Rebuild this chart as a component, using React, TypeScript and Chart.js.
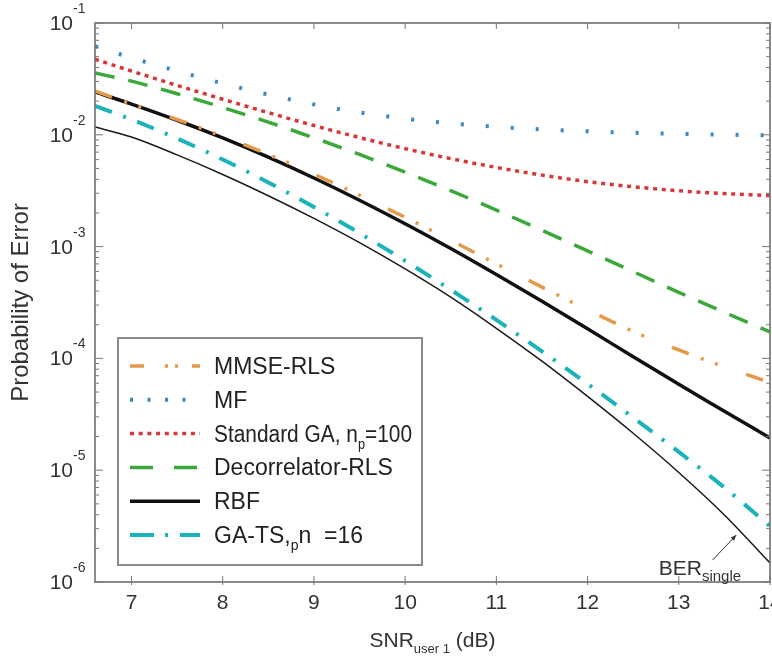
import React, { useEffect, useRef } from "react";
import { Chart, registerables } from "chart.js";

Chart.register(...registerables);

const FONT = "'Liberation Sans', Arial, Helvetica, sans-serif";

// SNR of user 1 (dB)
const snrDb = [6.6, 7, 7.5, 8, 8.5, 9, 9.5, 10, 10.5, 11, 11.5, 12, 12.5, 13, 13.5, 14];

// Probability of error per receiver
const mmseRls = [0.02466, 0.01884, 0.01371, 0.0097, 0.00667, 0.00445, 0.00288, 0.00183, 0.001138, 0.000702, 0.000434, 0.000272, 0.0001746, 0.000119, 8.41e-5, 6.1e-5];
const mf = [0.0621, 0.0488, 0.0372, 0.0288, 0.0229, 0.0187, 0.01585, 0.01393, 0.01265, 0.01178, 0.01117, 0.01074, 0.01042, 0.01019, 0.01002, 0.00991];
const standardGa = [0.0474, 0.0372, 0.02767, 0.0208, 0.01578, 0.0121, 0.00944, 0.00752, 0.00612, 0.00511, 0.00436, 0.00381, 0.00343, 0.00316, 0.00298, 0.00286];
const decorrelatorRls = [0.0357, 0.0302, 0.0233, 0.01754, 0.01297, 0.0094, 0.00667, 0.00463, 0.00316, 0.00212, 0.0014, 0.000916, 0.000597, 0.00039, 0.000258, 0.000173];
const rbf = [0.02415, 0.01884, 0.01349, 0.00938, 0.00631, 0.00411, 0.0026, 0.0016, 0.00096, 0.000562, 0.000324, 0.000184, 0.0001035, 5.86e-5, 3.37e-5, 1.94e-5];
const gaTs = [0.01811, 0.01371, 0.00927, 0.00601, 0.00375, 0.00226, 0.00132, 0.000746, 0.000411, 0.000221, 0.0001156, 5.92e-5, 2.96e-5, 1.456e-5, 7.0e-6, 3.16e-6];
const berSingle = [0.01175, 0.00955, 0.00661, 0.00442, 0.00285, 0.001786, 0.001084, 0.000631, 0.000353, 0.000186, 9.44e-5, 4.57e-5, 2.14e-5, 9.55e-6, 3.98e-6, 1.48e-6];

// Series names (_{...} marks a subscript)
const seriesNames = ["MMSE-RLS", "MF", "Standard GA, n_{p}=100", "Decorrelator-RLS", "RBF", "GA-TS,_{p}n  =16"];
const berLabel = "BER_{single}";

// Axes
const xTickValues = [7, 8, 9, 10, 11, 12, 13, 14];
const yExponents = [-6, -5, -4, -3, -2, -1];
const xTitle = "SNR_{user 1} (dB)";
const yTitle = "Probability of Error";

// Annotation anchor (data coords)
const berTextAt = { x: 12.78, y: 1.16e-6 };
const berArrowFrom = { x: 13.37, y: 1.57e-6 };
const berArrowTo = { x: 13.63, y: 2.63e-6 };

type Part = { t: string; sub: boolean };
function parseRich(s: string): Part[] {
  const parts: Part[] = [];
  const re = /_\{([^}]*)\}/g;
  let last = 0;
  let m: RegExpExecArray | null;
  while ((m = re.exec(s))) {
    if (m.index > last) parts.push({ t: s.slice(last, m.index), sub: false });
    parts.push({ t: m[1], sub: true });
    last = re.lastIndex;
  }
  if (last < s.length) parts.push({ t: s.slice(last), sub: false });
  return parts;
}

function drawRich(
  ctx: CanvasRenderingContext2D,
  s: string,
  x: number,
  y: number,
  size: number,
  subSize: number,
  align: "left" | "center",
  color: string,
  maxWidth?: number
) {
  const parts = parseRich(s);
  const widths: number[] = [];
  let total = 0;
  for (const p of parts) {
    ctx.font = `${p.sub ? subSize : size}px ${FONT}`;
    const w = ctx.measureText(p.t).width;
    widths.push(w);
    total += w;
  }
  const sx = maxWidth && total > maxWidth ? maxWidth / total : 1;
  const drawnTotal = total * sx;
  const startX = align === "center" ? x - drawnTotal / 2 : x;
  ctx.save();
  ctx.translate(startX, y);
  ctx.scale(sx, 1);
  ctx.textAlign = "left";
  ctx.textBaseline = "alphabetic";
  ctx.fillStyle = color;
  let cx = 0;
  parts.forEach((p, i) => {
    ctx.font = `${p.sub ? subSize : size}px ${FONT}`;
    ctx.fillText(p.t, cx, p.sub ? size * 0.3 : 0);
    cx += widths[i];
  });
  ctx.restore();
}

const seriesStyles = [
  { color: "#e39a4a", width: 3.5, dash: [18, 13, 3, 12, 3, 30], legendDash: [14, 21, 3, 7, 3, 14] },
  { color: "#3b88c4", width: 4, dash: [3, 22], legendDash: [3, 14.5] },
  { color: "#d6383a", width: 3.5, dash: [4, 4.7], legendDash: [4, 4.7] },
  { color: "#3aa83a", width: 3.5, dash: [20, 14], legendDash: [23, 21] },
  { color: "#111111", width: 3.5, dash: [] as number[], legendDash: [] as number[] },
  { color: "#1bb3b8", width: 4, dash: [18, 12, 3, 12], legendDash: [24, 11, 3, 12] },
];

const decorPlugin = {
  id: "decor",
  beforeDraw(chart: any) {
    const { ctx, width, height } = chart;
    ctx.save();
    ctx.fillStyle = "#ffffff";
    ctx.fillRect(0, 0, width, height);
    ctx.restore();
  },
  afterDatasetsDraw(chart: any) {
    const { ctx, chartArea: ca } = chart;
    const xs = chart.scales.x;
    const ys = chart.scales.y;
    ctx.save();

    // frame
    ctx.strokeStyle = "#6f6f6f";
    ctx.lineWidth = 1.6;
    ctx.setLineDash([]);
    ctx.strokeRect(ca.left, ca.top, ca.right - ca.left, ca.bottom - ca.top);

    // tick marks
    ctx.lineWidth = 1;
    ctx.strokeStyle = "#777";
    for (const e of yExponents) {
      const yMaj = ys.getPixelForValue(Math.pow(10, e));
      ctx.beginPath();
      ctx.moveTo(ca.left, yMaj); ctx.lineTo(ca.left + 8, yMaj);
      ctx.moveTo(ca.right, yMaj); ctx.lineTo(ca.right - 8, yMaj);
      ctx.stroke();
      if (e < -1) {
        for (let m = 2; m <= 9; m++) {
          const y = ys.getPixelForValue(m * Math.pow(10, e));
          ctx.beginPath();
          ctx.moveTo(ca.left, y); ctx.lineTo(ca.left + 4, y);
          ctx.moveTo(ca.right, y); ctx.lineTo(ca.right - 4, y);
          ctx.stroke();
        }
      }
    }
    for (const v of xTickValues) {
      const x = xs.getPixelForValue(v);
      ctx.beginPath();
      ctx.moveTo(x, ca.bottom + 3); ctx.lineTo(x, ca.bottom - 6);
      ctx.moveTo(x, ca.top); ctx.lineTo(x, ca.top + 6);
      ctx.stroke();
    }

    // y tick labels 10^e
    ctx.fillStyle = "#333";
    for (const e of yExponents) {
      const y = ys.getPixelForValue(Math.pow(10, e));
      ctx.font = `21px ${FONT}`;
      ctx.textAlign = "right";
      ctx.textBaseline = "alphabetic";
      ctx.fillText("10", ca.left - 22, y + 7);
      ctx.font = `14px ${FONT}`;
      ctx.textAlign = "left";
      ctx.fillText(String(e), ca.left - 22, y - 10);
    }

    // x title
    drawRich(ctx, xTitle, (ca.left + ca.right) / 2, ca.bottom + 65, 21, 13, "center", "#333");

    // legend
    const bx = ca.left + 23;
    const by = ca.bottom - 244;
    const bw = 304;
    const bh = 227;
    ctx.fillStyle = "#ffffff";
    ctx.fillRect(bx, by, bw, bh);
    ctx.strokeStyle = "#8a8a8a";
    ctx.lineWidth = 2;
    ctx.setLineDash([]);
    ctx.strokeRect(bx, by, bw, bh);
    chart.data.datasets.forEach((ds: any, i: number) => {
      if (i >= seriesNames.length) return;
      const ry = by + 28 + i * 33.8;
      ctx.save();
      ctx.strokeStyle = ds.borderColor;
      ctx.lineWidth = ds.borderWidth;
      ctx.setLineDash(seriesStyles[i].legendDash);
      ctx.beginPath();
      ctx.moveTo(bx + 12, ry);
      ctx.lineTo(bx + 82, ry);
      ctx.stroke();
      ctx.restore();
      drawRich(ctx, seriesNames[i], bx + 96, ry + 8, 23, 14, "left", "#222", bw - 96 - 10);
    });

    // BER_single annotation
    const tx = xs.getPixelForValue(berTextAt.x);
    const ty = ys.getPixelForValue(berTextAt.y);
    drawRich(ctx, berLabel, tx, ty, 21, 15, "left", "#333");
    const ax0 = xs.getPixelForValue(berArrowFrom.x);
    const ay0 = ys.getPixelForValue(berArrowFrom.y);
    const ax1 = xs.getPixelForValue(berArrowTo.x);
    const ay1 = ys.getPixelForValue(berArrowTo.y);
    ctx.strokeStyle = "#333";
    ctx.fillStyle = "#333";
    ctx.lineWidth = 1;
    ctx.beginPath();
    ctx.moveTo(ax0, ay0);
    ctx.lineTo(ax1, ay1);
    ctx.stroke();
    const ang = Math.atan2(ay1 - ay0, ax1 - ax0);
    ctx.beginPath();
    ctx.moveTo(ax1, ay1);
    ctx.lineTo(ax1 - 6 * Math.cos(ang - 0.4), ay1 - 6 * Math.sin(ang - 0.4));
    ctx.lineTo(ax1 - 6 * Math.cos(ang + 0.4), ay1 - 6 * Math.sin(ang + 0.4));
    ctx.closePath();
    ctx.fill();

    ctx.restore();
  },
};

export default function App() {
  const canvasRef = useRef<HTMLCanvasElement | null>(null);

  useEffect(() => {
    if (!canvasRef.current) return;
    const series = [mmseRls, mf, standardGa, decorrelatorRls, rbf, gaTs];
    const datasets: any[] = series.map((vals, i) => ({
      label: seriesNames[i],
      data: snrDb.map((x, k) => ({ x, y: vals[k] })),
      borderColor: seriesStyles[i].color,
      borderWidth: seriesStyles[i].width,
      borderDash: seriesStyles[i].dash,
      borderCapStyle: "butt",
      pointRadius: 0,
      fill: false,
      cubicInterpolationMode: "monotone",
    }));
    datasets.push({
      label: "BER single",
      data: snrDb.map((x, k) => ({ x, y: berSingle[k] })),
      borderColor: "#1a1a1a",
      borderWidth: 1.5,
      borderDash: [],
      pointRadius: 0,
      fill: false,
      cubicInterpolationMode: "monotone",
    });

    const chart = new Chart(canvasRef.current, {
      type: "line",
      data: { datasets },
      options: {
        animation: false,
        responsive: false,
        devicePixelRatio: 1,
        layout: { padding: { top: 23, right: 2, left: 0, bottom: 0 } },
        plugins: { legend: { display: false }, tooltip: { enabled: false } },
        scales: {
          x: {
            type: "linear",
            min: 6.6,
            max: 14,
            afterBuildTicks: (s: any) => {
              s.ticks = xTickValues.map((v) => ({ value: v }));
            },
            afterFit: (s: any) => {
              s.height = 74;
              s.paddingLeft = 0;
              s.paddingRight = 0;
            },
            grid: { display: false, drawTicks: false },
            border: { display: false },
            ticks: {
              font: { family: FONT, size: 21 },
              color: "#333",
              padding: 9,
              maxRotation: 0,
              autoSkip: false,
            },
          },
          y: {
            type: "logarithmic",
            min: 1e-6,
            max: 1e-1,
            afterFit: (s: any) => {
              s.width = 95;
              s.paddingTop = 0;
              s.paddingBottom = 0;
            },
            grid: { display: false, drawTicks: false },
            border: { display: false },
            ticks: { display: false },
            title: {
              display: true,
              text: yTitle,
              color: "#333",
              font: { family: FONT, size: 24 },
              padding: { top: 7, bottom: 0 },
            },
          },
        },
      } as any,
      plugins: [decorPlugin],
    });
    return () => chart.destroy();
  }, []);

  return (
    <div style={{ position: "absolute", left: 0, top: 0, width: 772, height: 656, background: "#fff" }}>
      <canvas ref={canvasRef} width={772} height={656} style={{ display: "block" }} />
    </div>
  );
}
